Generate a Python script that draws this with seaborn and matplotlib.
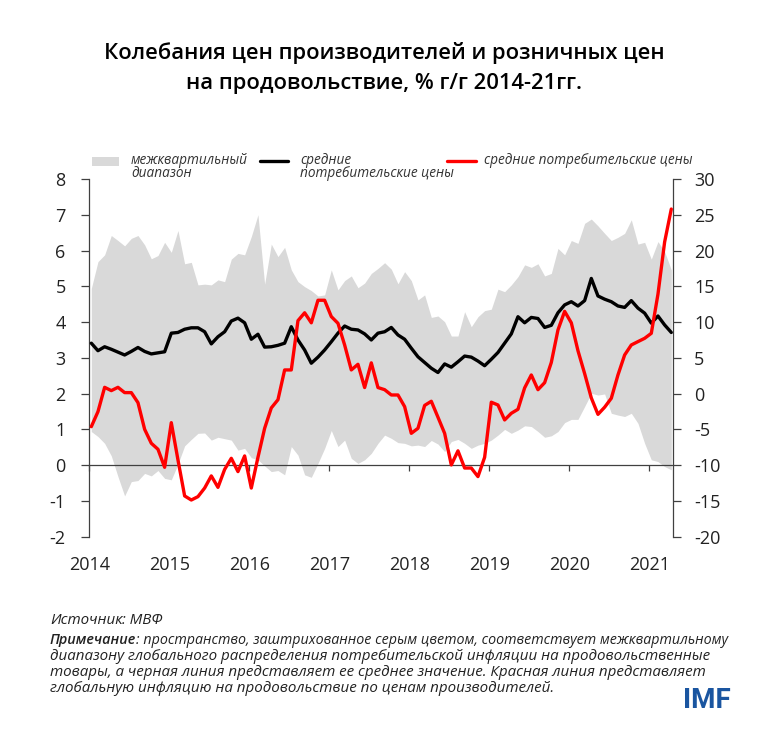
import numpy as np
import pandas as pd
import matplotlib
matplotlib.use("Agg")
import matplotlib.pyplot as plt
import seaborn as sns
from matplotlib.lines import Line2D
from matplotlib.patches import Rectangle

sns.set_theme(style="white")
plt.rcParams['font.family'] = ['Open Sans', 'DejaVu Sans']
plt.rcParams['axes.unicode_minus'] = False

# ---- data (monthly, Jan 2014 - Apr 2021) ----
start_month = "2014-01-01"
mean_cpi = [3.41, 3.20, 3.31, 3.24, 3.16, 3.08, 3.18, 3.29, 3.18, 3.11, 3.14, 3.17,
            3.69, 3.71, 3.80, 3.84, 3.84, 3.73, 3.39, 3.59, 3.73, 4.03, 4.11, 3.98,
            3.52, 3.66, 3.30, 3.31, 3.35, 3.41, 3.87, 3.50, 3.22, 2.85, 3.02, 3.22,
            3.45, 3.69, 3.89, 3.80, 3.78, 3.67, 3.50, 3.69, 3.73, 3.85, 3.64, 3.52,
            3.27, 3.03, 2.87, 2.71, 2.59, 2.83, 2.74, 2.89, 3.05, 3.02, 2.91, 2.78,
            2.96, 3.15, 3.41, 3.67, 4.15, 3.98, 4.13, 4.10, 3.85, 3.91, 4.26, 4.48,
            4.57, 4.45, 4.60, 5.22, 4.73, 4.64, 4.57, 4.45, 4.41, 4.60, 4.39, 4.25,
            3.97, 4.17, 3.92, 3.71]
ppi = [-4.62, -2.52, 0.88, 0.42, 0.88, 0.14, 0.14, -1.26, -4.99, -6.94, -7.78, -10.3,
       -4.06, -9.27, -14.3, -14.87, -14.4, -13.2, -11.5, -13.1, -10.6, -9.04, -10.9, -8.71,
       -13.2, -8.9, -4.85, -2.0, -0.85, 3.31, 3.31, 10.2, 11.3, 9.9, 13.05, 13.05,
       10.77, 9.83, 6.8, 3.31, 4.1, 0.85, 4.3, 0.85, 0.55, -0.19, -0.19, -1.82,
       -5.55, -4.85, -1.65, -1.07, -3.3, -5.55, -9.97, -8.0, -10.4, -10.4, -11.6, -8.9,
       -1.2, -1.59, -3.68, -2.75, -2.19, 0.8, 2.61, 0.55, 1.53, 4.35, 8.9, 11.5,
       9.9, 6.0, 2.8, -0.6, -2.9, -1.9, -0.65, 2.61, 5.40, 6.80, 7.27, 7.73,
       8.43, 13.9, 21.2, 25.8]
iqr_high = [4.94, 5.69, 5.88, 6.42, 6.28, 6.13, 6.34, 6.42, 6.16, 5.77, 5.86, 6.23,
            5.95, 6.56, 5.63, 5.67, 5.04, 5.06, 5.04, 5.18, 5.13, 5.76, 5.92, 5.88,
            6.39, 7.00, 5.06, 6.18, 5.83, 6.09, 5.46, 5.13, 4.99, 4.88, 4.73, 4.76,
            5.46, 4.90, 5.16, 5.29, 4.96, 5.09, 5.36, 5.50, 5.66, 5.48, 5.07, 5.41,
            5.16, 4.62, 4.76, 4.13, 4.17, 4.01, 3.61, 3.61, 4.29, 3.87, 4.15, 4.32,
            4.36, 4.92, 4.85, 5.04, 5.27, 5.60, 5.53, 5.63, 5.29, 5.36, 6.06, 5.88,
            6.28, 6.20, 6.76, 6.88, 6.69, 6.48, 6.28, 6.37, 6.48, 6.86, 6.18, 6.23,
            5.76, 6.25, 5.97, 5.46]
iqr_low = [0.94, 0.80, 0.61, 0.26, -0.32, -0.86, -0.46, -0.43, -0.23, -0.30, -0.15, -0.37,
           -0.41, 0.03, 0.54, 0.72, 0.89, 0.90, 0.70, 0.78, 0.74, 0.70, 0.42, 0.47,
           0.21, 0.15, -0.02, -0.18, -0.15, -0.27, 0.52, 0.28, -0.27, -0.34, 0.05, 0.47,
           0.97, 0.52, 0.70, 0.19, 0.05, 0.15, 0.33, 0.61, 0.84, 0.75, 0.63, 0.61,
           0.54, 0.56, 0.52, 0.69, 0.59, 0.38, 0.66, 0.72, 0.61, 0.47, 0.56, 0.61,
           0.70, 0.84, 1.00, 0.89, 0.98, 1.10, 1.08, 0.94, 0.78, 0.82, 0.94, 1.19,
           1.28, 1.28, 1.64, 2.01, 1.96, 1.99, 1.45, 1.40, 1.36, 1.45, 1.17, 0.61,
           0.15, 0.10, -0.04, -0.13]
years = list(range(2014, 2022))
left_ticks = list(range(-2, 9))
right_ticks = list(range(-20, 31, 5))

title_1 = "Колебания цен производителей и розничных цен"
title_2 = "на продовольствие, % г/г 2014-21гг."
leg_band = "межквартильный\nдиапазон"
leg_mean = "средние\nпотребительские цены"
leg_ppi = "средние потребительские цены"
source_lbl = "Источник"
source_txt = ": МВФ"
note_lbl = "Примечание"
note_lines = [": пространство, заштрихованное серым цветом, соответствует межквартильному",
              "диапазону глобального распределения потребительской инфляции на продовольственные",
              "товары, а черная линия представляет ее среднее значение. Красная линия представляет",
              "глобальную инфляцию на продовольствие по ценам производителей."]

months = pd.date_range(start_month, periods=len(mean_cpi), freq="MS")
df = pd.DataFrame({
    "t": months.year + (months.month - 1 + 0.3) / 12.0,
    "mean": mean_cpi, "ppi": ppi, "hi": iqr_high, "lo": iqr_low,
})

W, H = 768, 754
fig = plt.figure(figsize=(W / 100, H / 100), dpi=100)
L, R, T, B = 89.3, 673.3, 179.0, 536.7
ax = fig.add_axes([L / W, 1 - B / H, (R - L) / W, (B - T) / H])
ax.set_facecolor("none")

LW = 2.4
ax.fill_between(df["t"], df["lo"], df["hi"], color="#d9d9d9", lw=0, zorder=1)
sns.lineplot(data=df, x="t", y="mean", ax=ax, color="black", lw=LW, zorder=3)
ax.set_ylim(-2, 8)
ax.set_xlim(2014, 2021.30)
ax.set_yticks(left_ticks)
ax.set_xticks(years)
ax.set_xlabel("")
ax.set_ylabel("")
ax.grid(False)

spc = "#404040"
for s in ["top", "right"]:
    ax.spines[s].set_visible(False)
ax.spines["left"].set_color(spc)
ax.spines["left"].set_linewidth(0.9)
ax.spines["bottom"].set_position(("data", 0))
ax.spines["bottom"].set_color(spc)
ax.spines["bottom"].set_linewidth(0.9)
ax.spines["bottom"].set_zorder(2)
ax.tick_params(axis="y", direction="out", length=6, width=0.9, color=spc,
               labelsize=13, pad=11, labelcolor="#222222", left=True)
ax.tick_params(axis="x", direction="out", length=4, width=0.9, color=spc,
               labelbottom=False, bottom=True)

sec = ax.secondary_xaxis(0)
sec.set_xticks(years)
sec.set_xticklabels([str(y) for y in years])
sec.spines["bottom"].set_visible(False)
sec.tick_params(axis="x", length=0, labelsize=13, pad=14, labelcolor="#222222")

ax2 = ax.twinx()
sns.lineplot(data=df, x="t", y="ppi", ax=ax2, color="#ff0000", lw=LW, zorder=4)
ax2.set_ylim(-20, 30)
ax2.set_yticks(right_ticks)
ax2.set_ylabel("")
ax2.grid(False)
for s in ["top", "left", "bottom"]:
    ax2.spines[s].set_visible(False)
ax2.spines["right"].set_color(spc)
ax2.spines["right"].set_linewidth(0.9)
ax2.tick_params(axis="y", direction="out", length=6, width=0.9, color=spc,
                labelsize=13, pad=9, labelcolor="#222222", right=True)

# ---- titles ----
fig.text(384 / W, 1 - 53 / H, title_1, ha="center", va="center", fontsize=15.8,
         fontweight="semibold", color="black")
fig.text(384 / W, 1 - 84 / H, title_2, ha="center", va="center", fontsize=15.8,
         fontweight="semibold", color="black")

# ---- legend ----
def fx(x): return x / W
def fy(y): return 1 - y / H
fig.patches.append(Rectangle((fx(92), fy(166)), (119 - 92) / W, 9 / H,
                             transform=fig.transFigure, color="#d9d9d9", lw=0))
fig.lines.append(Line2D([fx(260), fx(288)], [fy(161), fy(161)], color="black", lw=LW,
                        transform=fig.transFigure))
fig.lines.append(Line2D([fx(447), fx(476)], [fy(161), fy(161)], color="#ff0000", lw=LW,
                        transform=fig.transFigure))
leg_kw = dict(fontsize=9.8, style="italic", color="#333333", va="top", ha="left", linespacing=0.85)
fig.text(fx(131), fy(153), leg_band, **leg_kw)
fig.text(fx(300), fy(153), leg_mean, **leg_kw)
fig.text(fx(484), fy(153), leg_ppi, **leg_kw)

# ---- footnotes ----
fn_kw = dict(style="italic", color="#222222", va="center", ha="left")
t = fig.text(fx(50), fy(620), source_lbl, fontsize=10.9, **fn_kw)
fig.canvas.draw()
r = fig.canvas.get_renderer()
bb = t.get_window_extent(r)
fig.text(bb.x1 / W, fy(620), source_txt, fontsize=10.9, **fn_kw)
t2 = fig.text(fx(50), fy(640), note_lbl, fontweight="semibold", fontsize=10.4, **fn_kw)
bb2 = t2.get_window_extent(r)
fig.text(bb2.x1 / W, fy(640), note_lines[0], fontsize=10.3, **fn_kw)
for k, line in enumerate(note_lines[1:]):
    fig.text(fx(50), fy(656 + 16 * k), line, fontsize=10.9, **fn_kw)

fig.text(fx(707), fy(701), "IMF", fontsize=20, fontweight="bold", color="#1a55a0",
         ha="center", va="center", family=["Roboto", "DejaVu Sans"])

fig.savefig("out.png", dpi=100)
